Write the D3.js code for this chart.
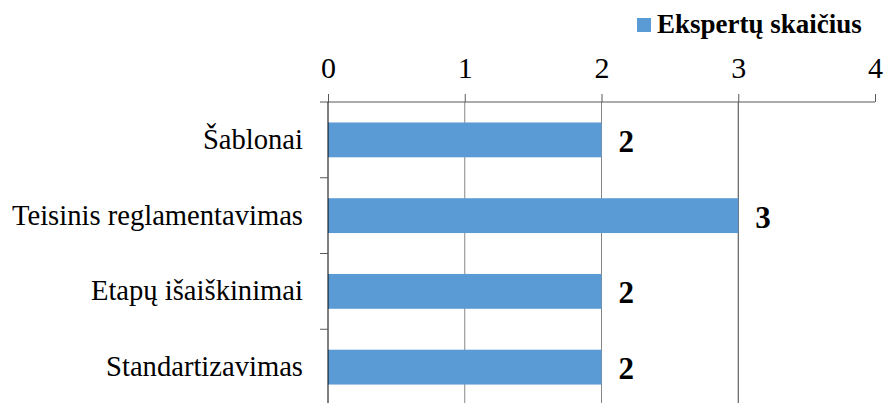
<!DOCTYPE html>
<html>
<head>
<meta charset="utf-8">
<script src="https://cdn.jsdelivr.net/npm/d3@7"></script>
<style>
  body { margin: 0; background: #fff; }
  svg { display: block; }
  svg text { font-family: "Liberation Serif", "Times New Roman", serif; fill: #000; }
</style>
</head>
<body>
<div id="chart"></div>
<script>
// chart data
const categories = ["Šablonai", "Teisinis reglamentavimas", "Etapų išaiškinimai", "Standartizavimas"];
const values = [2, 3, 2, 2];
const ticks = [0, 1, 2, 3, 4];
const seriesName = "Ekspertų skaičius";

const width = 885;
const height = 403;
const margin = { top: 102, right: 10, bottom: -2, left: 328 };
const serif = "'Liberation Serif', 'Times New Roman', serif";

const svg = d3.select("#chart")
  .append("svg")
  .attr("width", width)
  .attr("height", height);

const x = d3.scaleLinear()
  .domain([0, 4])
  .range([margin.left, width - margin.right]);

const y = d3.scaleBand()
  .domain(categories)
  .range([margin.top, height - margin.bottom])
  .paddingInner(0.54)
  .paddingOuter(0.27);

// vertical gridlines
svg.append("g")
  .selectAll("line")
  .data(ticks.filter((t) => t > 0 && t < 4))
  .enter()
  .append("line")
  .attr("x1", (d) => x(d))
  .attr("x2", (d) => x(d))
  .attr("y1", margin.top)
  .attr("y2", height)
  .attr("stroke", (d) => (d === 3 ? "#404040" : "#868686"))
  .attr("stroke-width", 1);

// bars
svg.append("g")
  .selectAll("rect")
  .data(categories)
  .enter()
  .append("rect")
  .attr("x", x(0))
  .attr("y", (d) => y(d))
  .attr("width", (d, i) => x(values[i]) - x(0))
  .attr("height", y.bandwidth())
  .attr("fill", "#5B9BD5");

// value labels
svg.append("g")
  .selectAll("text")
  .data(categories)
  .enter()
  .append("text")
  .attr("x", (d, i) => x(values[i]) + 17)
  .attr("y", (d) => y(d) + y.bandwidth() / 2 + 12)
  .attr("font-family", serif)
  .attr("font-size", 31)
  .attr("font-weight", "bold")
  .text((d, i) => values[i]);

// top axis
const xAxis = d3.axisTop(x)
  .tickValues(ticks)
  .tickSize(8)
  .tickPadding(16)
  .tickFormat(d3.format("d"));

const gx = svg.append("g")
  .attr("transform", `translate(0,${margin.top})`)
  .call(xAxis)
  .attr("font-family", serif);
gx.select(".domain").remove();
gx.append("line")
  .attr("x1", margin.left - 8)
  .attr("x2", x(4))
  .attr("stroke", "#595959");
gx.selectAll(".tick line").attr("stroke", "#595959");
gx.selectAll(".tick text")
  .attr("font-family", serif)
  .attr("font-size", 30)
  .attr("fill", "#000");

// left category axis
const band = y.step();
const boundaries = d3.range(categories.length).map((i) => margin.top + band * (i + 1));
svg.append("line")
  .attr("x1", x(0))
  .attr("x2", x(0))
  .attr("y1", margin.top)
  .attr("y2", height)
  .attr("stroke", "#000");
svg.append("g")
  .selectAll("line")
  .data(boundaries)
  .enter()
  .append("line")
  .attr("x1", x(0) - 8)
  .attr("x2", x(0))
  .attr("y1", (d) => d)
  .attr("y2", (d) => d)
  .attr("stroke", "#595959");

svg.append("g")
  .selectAll("text")
  .data(categories)
  .enter()
  .append("text")
  .attr("x", x(0) - 25)
  .attr("y", (d) => y(d) + y.bandwidth() / 2 + 9)
  .attr("text-anchor", "end")
  .attr("font-family", serif)
  .attr("font-size", 28.6)
  .text((d) => d);

// legend
const legend = svg.append("g").attr("transform", "translate(637,18)");
legend.append("rect")
  .attr("width", 14)
  .attr("height", 14)
  .attr("fill", "#5B9BD5");
legend.append("text")
  .attr("x", 20)
  .attr("y", 15)
  .attr("font-family", serif)
  .attr("font-size", 27)
  .attr("font-weight", "bold")
  .text(seriesName);
</script>
</body>
</html>
